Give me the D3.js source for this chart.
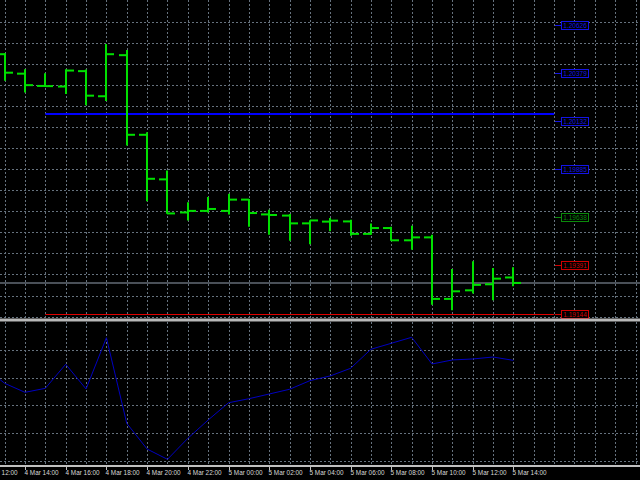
<!DOCTYPE html>
<html><head><meta charset="utf-8">
<script src="https://cdn.jsdelivr.net/npm/d3@7"></script>
<style>html,body{margin:0;padding:0;background:#000;}svg{display:block}</style>
</head><body>
<script>
// ---- data ----
const barTimes = ["2021-03-04T13:00","2021-03-04T14:00","2021-03-04T15:00","2021-03-04T16:00","2021-03-04T17:00","2021-03-04T18:00","2021-03-04T19:00","2021-03-04T20:00","2021-03-04T21:00","2021-03-04T22:00","2021-03-04T23:00","2021-03-05T00:00","2021-03-05T01:00","2021-03-05T02:00","2021-03-05T03:00","2021-03-05T04:00","2021-03-05T05:00","2021-03-05T06:00","2021-03-05T07:00","2021-03-05T08:00","2021-03-05T09:00","2021-03-05T10:00","2021-03-05T11:00","2021-03-05T12:00","2021-03-05T13:00","2021-03-05T14:00"];
const open  = [1.20476,1.20376,1.20313,1.20310,1.20389,1.20260,1.20471,1.20062,1.19833,1.19663,1.19671,1.19671,1.19729,1.19653,1.19647,1.19607,1.19616,1.19617,1.19553,1.19583,1.19520,1.19535,1.19219,1.19263,1.19294,1.19329];
const high  = [1.20481,1.20399,1.20378,1.20399,1.20398,1.20529,1.20498,1.20075,1.19879,1.19715,1.19742,1.19759,1.19732,1.19677,1.19655,1.19623,1.19635,1.19626,1.19606,1.19589,1.19595,1.19549,1.19373,1.19412,1.19378,1.19381];
const low   = [1.20340,1.20279,1.20307,1.20272,1.20214,1.20235,1.20007,1.19720,1.19657,1.19622,1.19663,1.19652,1.19589,1.19549,1.19518,1.19500,1.19566,1.19544,1.19549,1.19518,1.19472,1.19189,1.19161,1.19247,1.19212,1.19284];
const close = [1.20381,1.20317,1.20312,1.20392,1.20263,1.20476,1.20062,1.19836,1.19658,1.19671,1.19681,1.19729,1.19660,1.19650,1.19607,1.19622,1.19621,1.19553,1.19583,1.19520,1.19535,1.19219,1.19258,1.19291,1.19323,1.19301];

const indicatorTimes = ["2021-03-04T12:00"].concat(barTimes);
const indicatorValues = [67.6,55.9,49.4,52.3,69.6,51.8,88.7,27.1,8.6,1.2,16.3,29.5,41.9,44.8,48.2,51.6,57.8,61.2,66.7,80.4,84.7,89.0,69.8,72.7,73.4,74.8,72.4];

const levelPrices = [1.20626,1.20379,1.20132,1.19885,1.19638,1.19391,1.19144];
const levelKinds  = ["upper","upper","upper","upper","middle","lower","lower"];
const trendBlue = {price:1.20168, from:"2021-03-04T15:00", to:"2021-03-05T16:00"};
const trendRed  = {price:1.19144, from:"2021-03-04T15:00", to:"2021-03-05T16:00"};

const tickLabels = ["4 Mar 12:00","4 Mar 14:00","4 Mar 16:00","4 Mar 18:00","4 Mar 20:00","4 Mar 22:00","5 Mar 00:00","5 Mar 02:00","5 Mar 04:00","5 Mar 06:00","5 Mar 08:00","5 Mar 10:00","5 Mar 12:00","5 Mar 14:00"];
const indicatorGrid = [0,20,40,60,80];

// ---- setup ----
const W = 640, H = 480;
const parse = d3.utcParse("%Y-%m-%dT%H:%M");
const parseLabel = s => d3.utcParse("%Y %d %b %H:%M")("2021 " + s);
const svg = d3.select("body").append("svg").attr("width", W).attr("height", H).style("background", "#000");

const x = d3.scaleUtc().domain([parse("2021-03-04T12:00"), parse("2021-03-05T21:00")]).range([-15.7, 655.9]);
const y = d3.scaleLinear().domain([1.19144, 1.20626]).range([313.5, 25]);
const yi = d3.scaleLinear().domain([0, 100]).range([461, 322]);

const gridColor = "#66727e";
const levelColor = {upper:"#1414e6", middle:"#0a8a0a", lower:"#d00000"};

// vertical grid (hourly)
const hours = d3.utcHour.range(parse("2021-03-04T12:00"), parse("2021-03-05T21:30"));
const gv = svg.append("g");
hours.forEach(h => {
  const xx = Math.round(x(h)) + 0.5;
  gv.append("line").attr("x1", xx).attr("x2", xx).attr("y1", 0).attr("y2", 318)
    .attr("stroke", gridColor).attr("stroke-dasharray", "2,2");
  gv.append("line").attr("x1", xx).attr("x2", xx).attr("y1", 322).attr("y2", 465)
    .attr("stroke", gridColor).attr("stroke-dasharray", "2,2");
});
// horizontal grid upper panel
const gridStart = 1.20643, gridStep = 0.001082;
d3.range(15).forEach(i => {
  const yy = Math.round(y(gridStart - i * gridStep)) + 0.5;
  gv.append("line").attr("x1", 0).attr("x2", W).attr("y1", yy).attr("y2", yy)
    .attr("stroke", gridColor).attr("stroke-dasharray", "2,2");
});
// horizontal grid lower panel
indicatorGrid.forEach(v => {
  const yy = Math.round(yi(v)) + 0.5;
  gv.append("line").attr("x1", 0).attr("x2", W).attr("y1", yy).attr("y2", yy)
    .attr("stroke", gridColor).attr("stroke-dasharray", "2,2");
});

// trend lines
[[trendBlue, "#0000ff", 2, 0], [trendRed, "#e00000", 1, 0.5]].forEach(([t, c, w, off]) => {
  const yy = Math.round(y(t.price)) + off;
  svg.append("line").attr("x1", x(parse(t.from))).attr("x2", x(parse(t.to)))
    .attr("y1", yy).attr("y2", yy).attr("stroke", c).attr("stroke-width", w);
});

// bid line
svg.append("line").attr("x1", 0).attr("x2", W)
  .attr("y1", Math.round(y(close[close.length - 1]))).attr("y2", Math.round(y(close[close.length - 1])))
  .attr("stroke", "#4a5058").attr("stroke-width", 2);

// OHLC bars
const barColor = "#00e000";
const gb = svg.append("g").attr("stroke", barColor).attr("stroke-width", 2);
barTimes.forEach((t, i) => {
  const xx = Math.round(x(parse(t)));
  gb.append("line").attr("x1", xx).attr("x2", xx).attr("y1", y(high[i])).attr("y2", y(low[i]));
  gb.append("line").attr("x1", xx - 8).attr("x2", xx).attr("y1", y(open[i])).attr("y2", y(open[i]));
  gb.append("line").attr("x1", xx).attr("x2", xx + 8).attr("y1", y(close[i])).attr("y2", y(close[i]));
});

// level labels
const fmt = d3.format(".5f");
levelPrices.forEach((p, i) => {
  const c = levelColor[levelKinds[i]];
  const yy = Math.round(y(p)) + 0.5;
  svg.append("line").attr("x1", 555).attr("x2", 561).attr("y1", yy).attr("y2", yy).attr("stroke", c);
  svg.append("rect").attr("x", 561.5).attr("y", yy - 4).attr("width", 27).attr("height", 8)
    .attr("fill", "#000").attr("stroke", c).attr("stroke-width", 1);
  svg.append("text").attr("x", 575).attr("y", yy + 2.4).attr("text-anchor", "middle")
    .attr("font-family", "Liberation Sans, Arial, sans-serif").attr("font-size", 6.5)
    .attr("fill", c).text(fmt(p));
});

// separator
svg.append("rect").attr("x", 0).attr("y", 318.5).attr("width", W).attr("height", 3).attr("fill", "#b8b8b8");

// indicator line
const line = d3.line().x((d, i) => x(parse(indicatorTimes[i]))).y(d => yi(d));
svg.append("path").datum(indicatorValues).attr("d", line)
  .attr("fill", "none").attr("stroke", "#0000c0").attr("stroke-width", 1);

// time axis
svg.append("rect").attr("x", 0).attr("y", 465).attr("width", W).attr("height", 2).attr("fill", "#c0c0c0");
tickLabels.forEach(s => {
  const xx = Math.round(x(parseLabel(s))) + 0.5;
  svg.append("line").attr("x1", xx).attr("x2", xx).attr("y1", 467).attr("y2", 470).attr("stroke", "#c0c0c0");
  svg.append("text").attr("x", xx - 1).attr("y", 474.5)
    .attr("font-family", "Liberation Sans, Arial, sans-serif").attr("font-size", 6.4)
    .attr("fill", "#d8d8d8").text(s);
});
</script>
</body></html>
